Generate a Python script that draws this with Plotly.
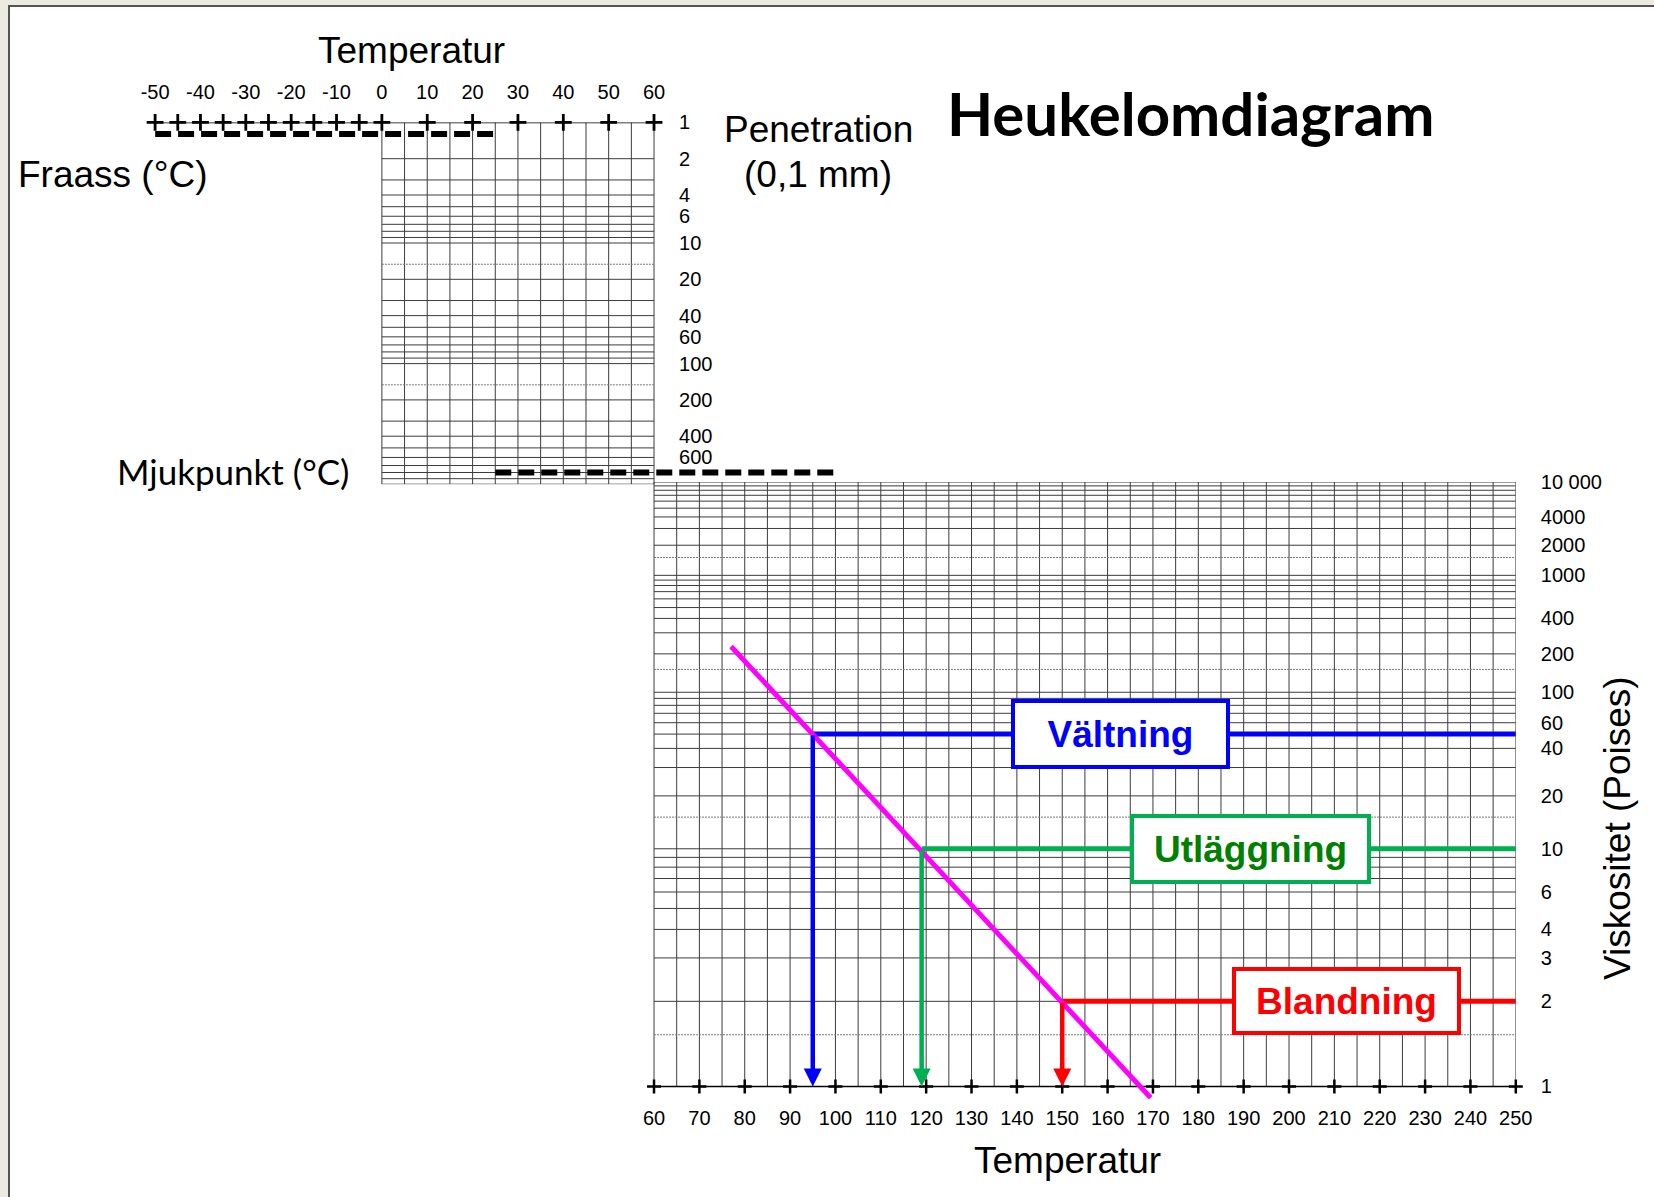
import numpy as np
import plotly.graph_objects as go

# ------------------------------------------------------------------
# Data
# ------------------------------------------------------------------
# Penetration scale (0,1 mm), logarithmic, upper chart
pen_ticks = [1, 2, 4, 6, 10, 20, 40, 60, 100, 200, 400, 600]
pen_grid = [2, 3, 4, 5, 6, 7, 8, 9, 10,
            20, 30, 40, 50, 60, 70, 80, 90, 100,
            200, 300, 400, 500, 600, 700, 800, 900, 1000]
pen_grid_dotted = [15, 150]

# Viscosity scale (Poises), log-log, lower chart
visc_ticks = [10000, 4000, 2000, 1000, 400, 200, 100, 60, 40, 20, 10, 6, 4, 3, 2, 1]
visc_tick_text = ["10 000", "4000", "2000", "1000", "400", "200", "100", "60",
                  "40", "20", "10", "6", "4", "3", "2", "1"]
visc_grid = [2, 3, 4, 5, 6, 7, 8, 9, 10,
             20, 30, 40, 50, 60, 70, 80, 90, 100,
             200, 300, 400, 500, 600, 700, 800, 900, 1000,
             2000, 3000, 4000, 5000, 6000, 7000, 8000, 9000, 10000]
visc_grid_dotted = [1.5, 15, 150, 1500]

# Temperature scales (°C)
top_temp_ticks = [-50, -40, -30, -20, -10, 0, 10, 20, 30, 40, 50, 60]
top_temp_text = ["-50", "-40", "-30", "-20", "-10", "0", "10", "20", "30", "40", "50", "60"]
top_cross_temps = [-50, -45, -40, -35, -30, -25, -20, -15, -10, -5, 0,
                   10, 20, 30, 40, 50, 60]
bottom_temp_ticks = [60, 70, 80, 90, 100, 110, 120, 130, 140, 150, 160,
                     170, 180, 190, 200, 210, 220, 230, 240, 250]
upper_grid_temps = [0, 5, 10, 15, 20, 25, 30, 35, 40, 45, 50, 55, 60]
lower_grid_temps = list(range(60, 251, 5))

# Fraass breaking point (pen 1.25) and softening point (pen 800)
fraass_pen = 1.25
fraass_temps = [-50, 25]
softening_pen = 800
softening_temps = [25, 100]

# Bitumen temperature-viscosity line
bitumen_temps = [77, 169.5]
bitumen_visc = [230, 0.92]

# Process viscosities and the temperatures
processes = ["Vältning", "Utläggning", "Blandning"]
process_visc = [50, 10, 2]
process_temp = [95, 119, 150]

# ------------------------------------------------------------------
# Layout constants (pixels on a 1654 x 1197 page)
# ------------------------------------------------------------------
W, H = 1654, 1197
X_PX_M50, X_PX_250 = 155.1, 1515.8          # T = -50 and T = 250
PEN_PX_1, PEN_PX_1000 = 122.4, 484.2         # penetration 1 and 1000
VISC_PX_1, VISC_PX_10000 = 1086.4, 482.0     # viscosity 1 and 10 000
VISC_EXTRA_PX = 28                           # room below the viscosity axis

FONT = "Liberation Sans"
GRID = "#3c3c3c"
BLUE, GREEN, GREEN_TXT, RED, MAGENTA = "#0000FF", "#00B050", "#008000", "#FF0000", "#FF00FF"


def vs(v):
    """Heukelom viscosity scale: log(log(eta) + 1.5)."""
    return np.log10(np.log10(np.asarray(v, dtype=float)) + 1.5)


def px(x):
    return x / W


def py(y):
    return 1 - y / H


def temp_px(t):
    return X_PX_M50 + (t + 50) * (X_PX_250 - X_PX_M50) / 300.0


def segments(pairs):
    xs, ys = [], []
    for (x0, y0), (x1, y1) in pairs:
        xs += [x0, x1, None]
        ys += [y0, y1, None]
    return xs, ys


# viscosity axis range, extended a little below eta = 1
v_lo, v_hi = float(vs(1)), float(vs(10000))
k = (VISC_PX_1 - VISC_PX_10000) / (v_hi - v_lo)
v_range_lo = v_lo - VISC_EXTRA_PX / k

fig = go.Figure()

# ---------------- upper chart (x2 / y2): penetration grid ----------------
xs, ys = segments([((t, 1), (t, 1000)) for t in upper_grid_temps] +
                  [((0, p), (60, p)) for p in pen_grid])
fig.add_trace(go.Scatter(x=xs, y=ys, xaxis="x2", yaxis="y2", mode="lines",
                         line=dict(color=GRID, width=1), hoverinfo="skip"))
xs, ys = segments([((0, p), (60, p)) for p in pen_grid_dotted])
fig.add_trace(go.Scatter(x=xs, y=ys, xaxis="x2", yaxis="y2", mode="lines",
                         line=dict(color="#777777", width=1, dash="2px,1px"), hoverinfo="skip"))
# top temperature axis line with cross ticks
fig.add_trace(go.Scatter(x=[top_cross_temps[0], top_cross_temps[-1]], y=[1, 1],
                         xaxis="x2", yaxis="y2", mode="lines",
                         line=dict(color="black", width=1.5), hoverinfo="skip"))
fig.add_trace(go.Scatter(x=top_cross_temps, y=[1] * len(top_cross_temps),
                         xaxis="x2", yaxis="y2", mode="markers", cliponaxis=False,
                         marker=dict(symbol="cross-thin", size=12,
                                     line=dict(color="black", width=2.8)),
                         hoverinfo="skip"))
# Fraass and softening point lines
fig.add_trace(go.Scatter(x=fraass_temps, y=[fraass_pen] * 2, xaxis="x2", yaxis="y2",
                         mode="lines", cliponaxis=False,
                         line=dict(color="black", width=6, dash="16px,7px"), hoverinfo="skip"))
fig.add_trace(go.Scatter(x=softening_temps, y=[softening_pen] * 2, xaxis="x2", yaxis="y2",
                         mode="lines", cliponaxis=False,
                         line=dict(color="black", width=6, dash="16px,7px"), hoverinfo="skip"))

# ---------------- lower chart (x / y): viscosity grid ----------------
xs, ys = segments([((t, v_lo), (t, v_hi)) for t in lower_grid_temps] +
                  [((60, float(vs(v))), (250, float(vs(v)))) for v in visc_grid])
fig.add_trace(go.Scatter(x=xs, y=ys, mode="lines",
                         line=dict(color=GRID, width=1), hoverinfo="skip"))
xs, ys = segments([((60, float(vs(v))), (250, float(vs(v)))) for v in visc_grid_dotted])
fig.add_trace(go.Scatter(x=xs, y=ys, mode="lines",
                         line=dict(color="#777777", width=1, dash="2px,1px"), hoverinfo="skip"))
fig.add_trace(go.Scatter(x=[bottom_temp_ticks[0], bottom_temp_ticks[-1]], y=[v_lo, v_lo],
                         mode="lines", line=dict(color="black", width=1.5), hoverinfo="skip"))
fig.add_trace(go.Scatter(x=bottom_temp_ticks, y=[v_lo] * len(bottom_temp_ticks),
                         mode="markers", cliponaxis=False,
                         marker=dict(symbol="cross-thin", size=10,
                                     line=dict(color="black", width=2.5)),
                         hoverinfo="skip"))

# process levels: horizontal line from the bitumen line to the right edge
colors = [BLUE, GREEN, RED]
for t, v, c in zip(process_temp, process_visc, colors):
    fig.add_trace(go.Scatter(x=[t, 250], y=[float(vs(v))] * 2, mode="lines",
                             line=dict(color=c, width=5), hoverinfo="skip"))

# bitumen line
fig.add_trace(go.Scatter(x=bitumen_temps, y=vs(bitumen_visc), mode="lines",
                         line=dict(color=MAGENTA, width=5), hoverinfo="skip"))

annotations = []
# arrows down to the temperature axis
for t, v, c in zip(process_temp, process_visc, colors):
    annotations.append(dict(x=t, y=v_lo, ax=t, ay=float(vs(v)),
                            xref="x", yref="y", axref="x", ayref="y",
                            showarrow=True, arrowhead=2, arrowsize=0.8,
                            arrowwidth=4.5, arrowcolor=c, standoff=0, text=""))

# process label boxes
box_temps = [162.8, 191.5, 212.7]
box_sizes = [(211, 62), (233, 62), (221, 60)]
text_colors = [BLUE, GREEN_TXT, RED]
for name, v, c, tc, bt, (bw, bh) in zip(processes, process_visc, colors, text_colors,
                                         box_temps, box_sizes):
    annotations.append(dict(x=bt, y=float(vs(v)), xref="x", yref="y", showarrow=False,
                            text=f"<b>{name}</b>", width=bw, height=bh,
                            bgcolor="white", bordercolor=c, borderwidth=4, borderpad=0,
                            font=dict(family=FONT, size=37, color=tc),
                            xanchor="center", yanchor="middle", align="center"))


# free text
def label(text, x, y, size, xanchor="center", family=FONT, angle=0):
    annotations.append(dict(x=px(x), y=py(y), xref="paper", yref="paper", showarrow=False,
                            text=text, textangle=angle, xanchor=xanchor, yanchor="middle",
                            font=dict(family=family, size=size, color="black")))


label("Temperatur", 411, 50, 37)
label("Fraass (°C)", 16, 174, 37, xanchor="left")
label("Penetration", 818, 129, 37)
label("(0,1 mm)", 818, 174, 37)
label("<b>Heukelomdiagram</b>", 945, 113, 60, xanchor="left", family="Lato")
label("Mjukpunkt (°C)", 351, 471, 35, xanchor="right", family="Lato")
label("Temperatur", 1067, 1160, 37)
label("Viskositet (Poises)", 1617, 828, 37, angle=-90)

tickfont = dict(family=FONT, size=20, color="black")
x_dom = [px(X_PX_M50), px(X_PX_250)]
clear = "rgba(0,0,0,0)"

fig.update_layout(
    width=W, height=H, autosize=False,
    margin=dict(l=0, r=0, t=0, b=0, pad=0, autoexpand=False),
    paper_bgcolor="#EDEAE1", plot_bgcolor=clear, showlegend=False,
    annotations=annotations,
    shapes=[dict(type="rect", xref="paper", yref="paper",
                 x0=px(9), x1=1.02, y0=-0.02, y1=py(6),
                 fillcolor="white", line=dict(color="#555555", width=2), layer="below")],
    xaxis=dict(domain=x_dom, range=[-50, 250], anchor="free", position=py(VISC_PX_1),
               showgrid=False, zeroline=False, showline=False, automargin=False,
               tickmode="array", tickvals=bottom_temp_ticks,
               ticks="outside", ticklen=14, tickcolor=clear, tickfont=tickfont),
    yaxis=dict(domain=[py(VISC_PX_1 + VISC_EXTRA_PX), py(VISC_PX_10000)],
               range=[v_range_lo, v_hi], anchor="x", side="right",
               showgrid=False, zeroline=False, showline=False, automargin=False,
               tickmode="array", tickvals=[float(vs(v)) for v in visc_ticks],
               ticktext=visc_tick_text,
               ticks="outside", ticklen=20, tickcolor=clear, tickfont=tickfont),
    xaxis2=dict(domain=x_dom, range=[-50, 250], anchor="y2", side="top",
                showgrid=False, zeroline=False, showline=False, automargin=False,
                tickmode="array", tickvals=top_temp_ticks, ticktext=top_temp_text,
                ticks="outside", ticklen=14, tickcolor=clear, tickfont=tickfont),
    yaxis2=dict(domain=[py(PEN_PX_1000), py(PEN_PX_1)], type="log", range=[3, 0],
                anchor="free", position=px(temp_px(60)), side="right",
                showgrid=False, zeroline=False, showline=False, automargin=False,
                tickmode="array", tickvals=pen_ticks, ticktext=[str(p) for p in pen_ticks],
                ticks="outside", ticklen=20, tickcolor=clear, tickfont=tickfont),
)

fig.write_html(
    "out.html",
    post_script="document.body.style.margin='0';document.body.style.overflow='hidden';",
)
